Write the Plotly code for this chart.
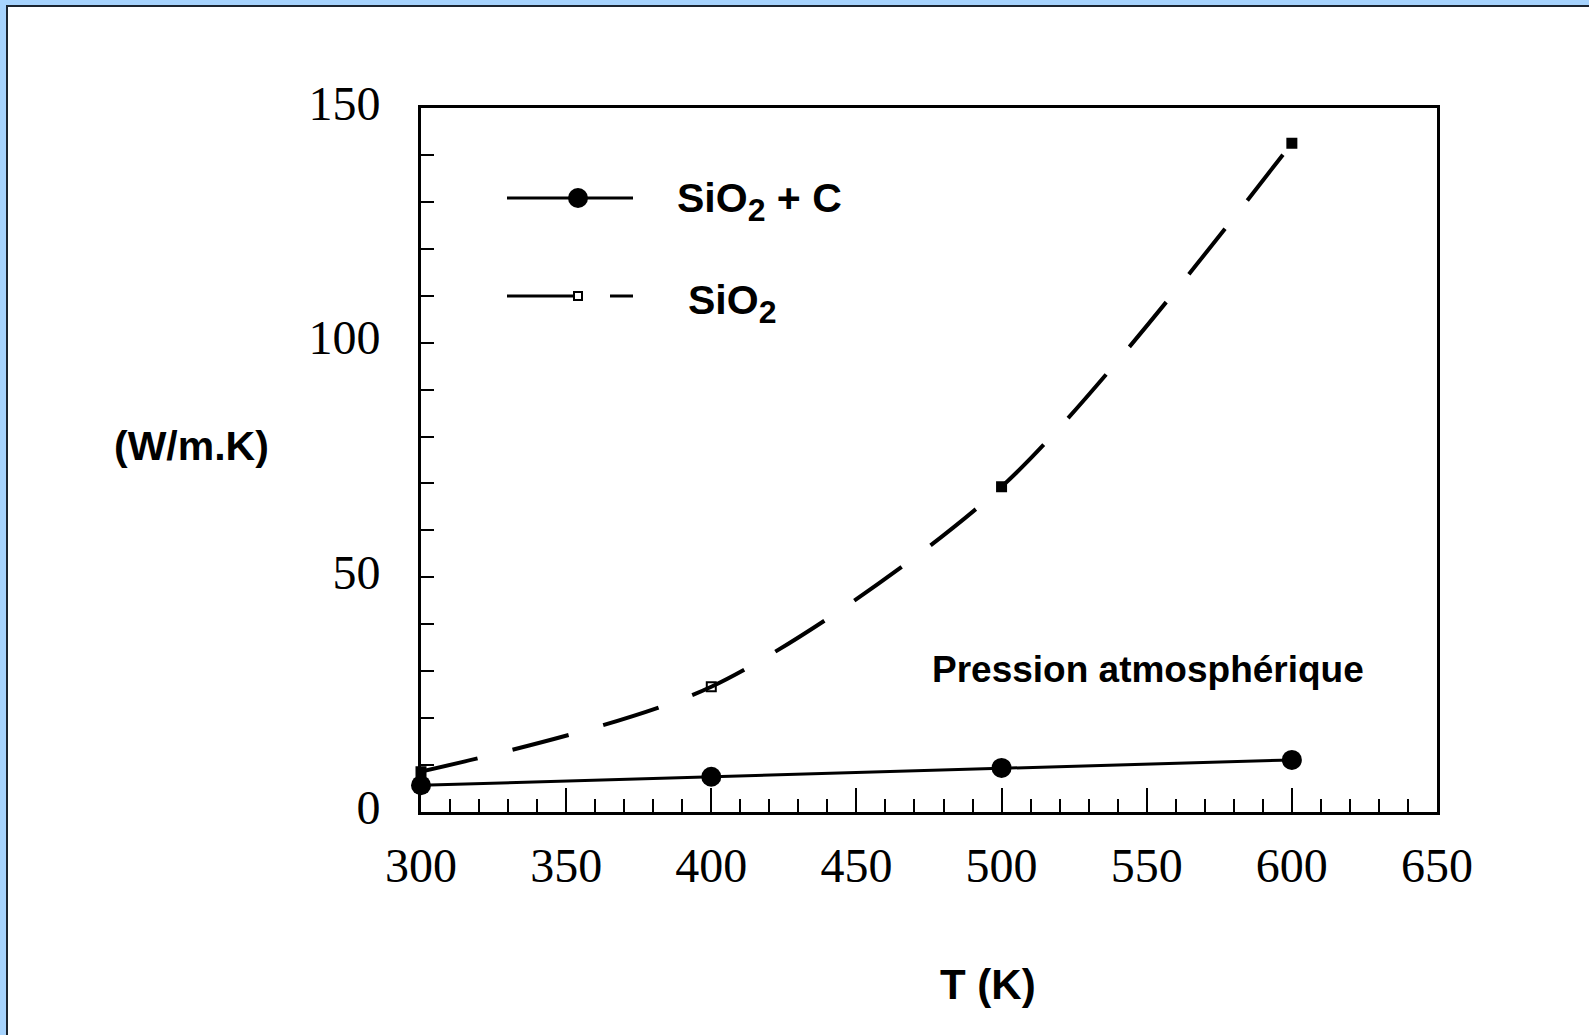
import plotly.graph_objects as go

# ---- data ----
temperature = [300, 400, 500, 600]
sio2_c = [5.7, 7.5, 9.4, 11.1]
sio2 = [8.6, 26.7, 69.3, 142.5]
x_ticks = [300, 350, 400, 450, 500, 550, 600, 650]
y_ticks = [0, 50, 100, 150]

W, H = 1589, 1035
L, R, T, B = 421, 1437, 108, 812
PW, PH = R - L, B - T


def px(xp):
    return (xp - L) / PW


def py(yp):
    return (B - yp) / PH


fig = go.Figure()

fig.add_trace(go.Scatter(
    x=temperature, y=sio2, mode="lines+markers",
    line=dict(color="black", width=4, dash="58px,36px", shape="spline", smoothing=0.8),
    marker=dict(symbol=["square", "square-open", "square", "square"], size=9,
                color="black", line=dict(color="black", width=2)),
    cliponaxis=False, showlegend=False,
))
fig.add_trace(go.Scatter(
    x=temperature, y=sio2_c, mode="lines+markers",
    line=dict(color="black", width=3),
    marker=dict(symbol="circle", size=20, color="black"),
    cliponaxis=False, showlegend=False,
))

serif = "Liberation Serif"
sans = "Liberation Sans"

fig.update_xaxes(
    range=[300, 650], tickvals=x_ticks, ticks="inside", ticklen=24, tickwidth=2,
    tickcolor="black", showline=True, linecolor="black", linewidth=3, mirror=True,
    showgrid=False, zeroline=False,
    tickfont=dict(family=serif, size=48, color="black"), ticklabelstandoff=9,
    minor=dict(dtick=10, ticks="inside", ticklen=13, tickwidth=2, tickcolor="black", showgrid=False),
)
fig.update_yaxes(
    range=[0, 150], tickvals=y_ticks, ticks="inside", ticklen=13, tickwidth=2,
    tickcolor="black", showline=True, linecolor="black", linewidth=3, mirror=True,
    showgrid=False, zeroline=False, ticklabelshift=-5,
    tickfont=dict(family=serif, size=48, color="black"), ticklabelstandoff=28,
    minor=dict(dtick=10, ticks="inside", ticklen=13, tickwidth=2, tickcolor="black", showgrid=False),
)

shapes = []
# frame border (top and left)
blue = "#A6D3FD"
shapes.append(dict(type="rect", xref="paper", yref="paper", x0=px(0), x1=px(6), y0=py(W * 2), y1=py(0),
                   fillcolor=blue, line=dict(width=0), layer="above"))
shapes.append(dict(type="rect", xref="paper", yref="paper", x0=px(0), x1=px(W), y0=py(5), y1=py(0),
                   fillcolor=blue, line=dict(width=0), layer="above"))
shapes.append(dict(type="line", xref="paper", yref="paper", x0=px(7), x1=px(7), y0=py(6), y1=py(W * 2),
                   line=dict(color="#1b2530", width=2)))
shapes.append(dict(type="line", xref="paper", yref="paper", x0=px(6), x1=px(W), y0=py(6), y1=py(6),
                   line=dict(color="#1b2530", width=2)))

# legend samples
shapes.append(dict(type="line", xref="paper", yref="paper", x0=px(507), x1=px(633), y0=py(198), y1=py(198),
                   line=dict(color="black", width=3)))
shapes.append(dict(type="circle", xref="paper", yref="paper", xsizemode="pixel", ysizemode="pixel",
                   xanchor=px(578), yanchor=py(198), x0=-10, x1=10, y0=-10, y1=10,
                   fillcolor="black", line=dict(color="black", width=0)))
shapes.append(dict(type="line", xref="paper", yref="paper", x0=px(507), x1=px(574), y0=py(296), y1=py(296),
                   line=dict(color="black", width=3)))
shapes.append(dict(type="rect", xref="paper", yref="paper", xsizemode="pixel", ysizemode="pixel",
                   xanchor=px(578), yanchor=py(296), x0=-4, x1=4, y0=-4, y1=4,
                   fillcolor="white", line=dict(color="black", width=2)))
shapes.append(dict(type="line", xref="paper", yref="paper", x0=px(610), x1=px(633), y0=py(296), y1=py(296),
                   line=dict(color="black", width=3)))

sub2 = '<sub><span style="font-size:32px">2</span></sub>'
annotations = [
    dict(text=f"<b>SiO{sub2} + C</b>", x=px(675), y=py(201), xanchor="left", yanchor="middle"),
    dict(text=f"<b>SiO{sub2}</b>", x=px(686), y=py(303), xanchor="left", yanchor="middle"),
    dict(text="<b>(W/m.K)</b>", x=px(191), y=py(446), xanchor="center", yanchor="middle",
         font=dict(family=sans, size=41, color="black")),
    dict(text="<b>T (K)</b>", x=px(988), y=py(985), xanchor="center", yanchor="middle",
         font=dict(family=sans, size=42, color="black")),
    dict(text="<b>Pression atmosphérique</b>", x=px(1148), y=py(669), xanchor="center", yanchor="middle",
         font=dict(family=sans, size=37, color="black")),
]
for a in annotations:
    a.setdefault("font", dict(family=sans, size=41, color="black"))
    a.update(xref="paper", yref="paper", showarrow=False)

fig.update_layout(
    width=W, height=H,
    margin=dict(l=L, r=W - R, t=T, b=H - B, pad=0),
    paper_bgcolor="white", plot_bgcolor="white",
    shapes=shapes, annotations=annotations,
    showlegend=False,
)

fig.write_html("out.html")
